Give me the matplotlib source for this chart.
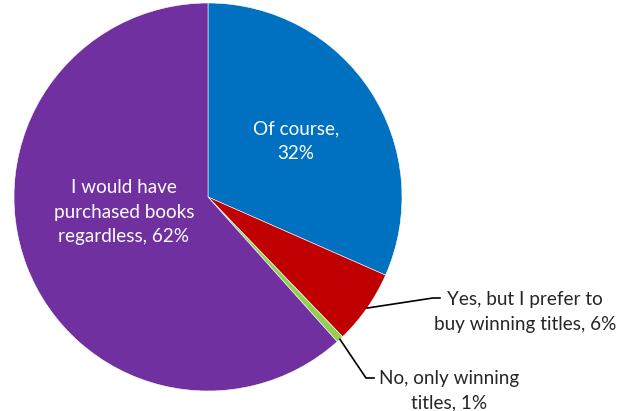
import numpy as np
import matplotlib
matplotlib.use("Agg")
import matplotlib.pyplot as plt

# survey answers, clockwise from 12 o'clock
answers = ["Of course", "Yes, but I prefer to buy winning titles",
           "No, only winning titles", "I would have purchased books regardless"]
shares = [31.6, 6.2, 0.6, 61.6]
shown_pct = ["32%", "6%", "1%", "62%"]
colors = ["#0070C0", "#C00000", "#92D050", "#7030A0"]

plt.rcParams["font.family"] = ["Lato", "DejaVu Sans"]

W, H = 628, 411
cx, cy, r = 208, 197, 194  # pie centre and radius in pixels (from top-left)

fig = plt.figure(figsize=(W / 100, H / 100), dpi=100)
ax = fig.add_axes([(cx - r) / W, (H - cy - r) / H, 2 * r / W, 2 * r / H])
wedges, _ = ax.pie(shares, colors=colors, startangle=90, counterclock=False,
                   radius=1, wedgeprops=dict(edgecolor="white", linewidth=0.4))
ax.set_xlim(-1, 1)
ax.set_ylim(-1, 1)
ax.set_aspect("equal")
ax.axis("off")


def pos(px, py):
    # pixel position -> data coords of the pie axes
    return (px - cx) / r, (cy - py) / r


def edge_point(w):
    mid = np.deg2rad((w.theta1 + w.theta2) / 2)
    return np.cos(mid), np.sin(mid)


fs = 13.6
ls = 1.55
# labels inside the two big slices
x, y = pos(296, 141)
ax.text(x, y, answers[0] + ",\n" + shown_pct[0], color="white", fontsize=fs,
        ha="center", va="center", linespacing=ls)
x, y = pos(124, 212)
ax.text(x, y, "I would have\npurchased books\nregardless, " + shown_pct[3],
        color="white", fontsize=fs, ha="center", va="center", linespacing=ls)

# red slice: label with leader line
ex, ey = edge_point(wedges[1])
k1 = pos(433, 298)
k2 = pos(440, 298)
ax.plot([ex, k1[0], k2[0]], [ey, k1[1], k2[1]], color="black", lw=1.2,
        clip_on=False)
x, y = pos(525, 312)
ax.text(x, y, "Yes, but I prefer to\nbuy winning titles, " + shown_pct[1],
        fontsize=fs, ha="center", va="center", linespacing=ls,
        color="#262626")

# green slice: label with leader line
ex, ey = edge_point(wedges[2])
k1 = pos(366, 378)
k2 = pos(374, 378)
ax.plot([ex, k1[0], k2[0]], [ey, k1[1], k2[1]], color="black", lw=1.2,
        clip_on=False)
x, y = pos(449, 391)
ax.text(x, y, "No, only winning\ntitles, " + shown_pct[2],
        fontsize=fs, ha="center", va="center", linespacing=ls,
        color="#262626")

fig.savefig("out.png", dpi=100)
